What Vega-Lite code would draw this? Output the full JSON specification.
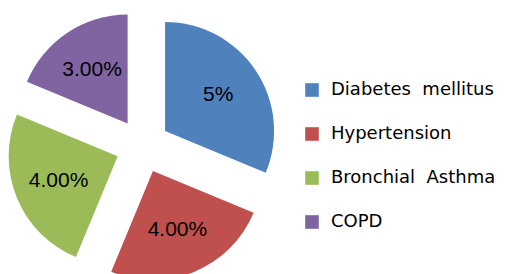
{
  "$schema": "https://vega.github.io/schema/vega-lite/v6.json",
  "width": 505,
  "height": 274,
  "padding": 0,
  "autosize": {"type": "none"},
  "background": "white",
  "config": {"view": {"stroke": null}},
  "data": {
    "values": [
      {"disease": "Diabetes\u00a0 mellitus", "value": 5, "label": "5%"},
      {"disease": "Hypertension", "value": 4, "label": "4.00%"},
      {"disease": "Bronchial\u00a0 Asthma", "value": 4, "label": "4.00%"},
      {"disease": "COPD", "value": 3, "label": "3.00%"}
    ]
  },
  "transform": [
    {"window": [{"op": "sum", "field": "value", "as": "end"}], "frame": [null, 0]},
    {"joinaggregate": [{"op": "sum", "field": "value", "as": "total"}]},
    {"calculate": "datum.end - datum.value", "as": "start"},
    {"calculate": "datum.end - datum.value / 2", "as": "midv"},
    {"calculate": "sin(2 * PI * datum.midv / datum.total)", "as": "dx"},
    {"calculate": "-cos(2 * PI * datum.midv / datum.total)", "as": "dy"}
  ],
  "encoding": {
    "x": {"field": "dx", "type": "quantitative", "scale": {"domain": [-1, 1], "range": [115.6, 169.6]}, "axis": null},
    "y": {"field": "dy", "type": "quantitative", "scale": {"domain": [-1, 1], "range": [119, 173]}, "axis": null}
  },
  "layer": [
    {
      "mark": {"type": "arc", "outerRadius": 109, "strokeWidth": 0},
      "encoding": {
        "theta": {"field": "start", "type": "quantitative", "scale": {"domain": [0, 16]}},
        "theta2": {"field": "end"},
        "color": {
          "field": "disease",
          "type": "nominal",
          "sort": null,
          "scale": {
            "domain": ["Diabetes\u00a0 mellitus", "Hypertension", "Bronchial\u00a0 Asthma", "COPD"],
            "range": ["#4F81BD", "#C0504D", "#9BBB59", "#8064A2"]
          },
          "legend": {
            "orient": "none",
            "legendX": 303,
            "legendY": 81,
            "title": null,
            "symbolType": "square",
            "symbolSize": 185,
            "symbolStrokeWidth": 0,
            "symbolOpacity": 1,
            "labelFont": "DejaVu Sans",
            "labelFontSize": 18,
            "labelColor": "#000000",
            "labelOffset": 10,
            "rowPadding": 26,
            "labelLimit": 300
          }
        }
      }
    },
    {
      "mark": {"type": "text", "radius": 64, "font": "Liberation Sans", "fontSize": 21, "color": "#000000"},
      "encoding": {
        "theta": {"field": "midv", "type": "quantitative", "stack": false, "scale": {"domain": [0, 16]}},
        "text": {"field": "label"}
      }
    }
  ]
}
